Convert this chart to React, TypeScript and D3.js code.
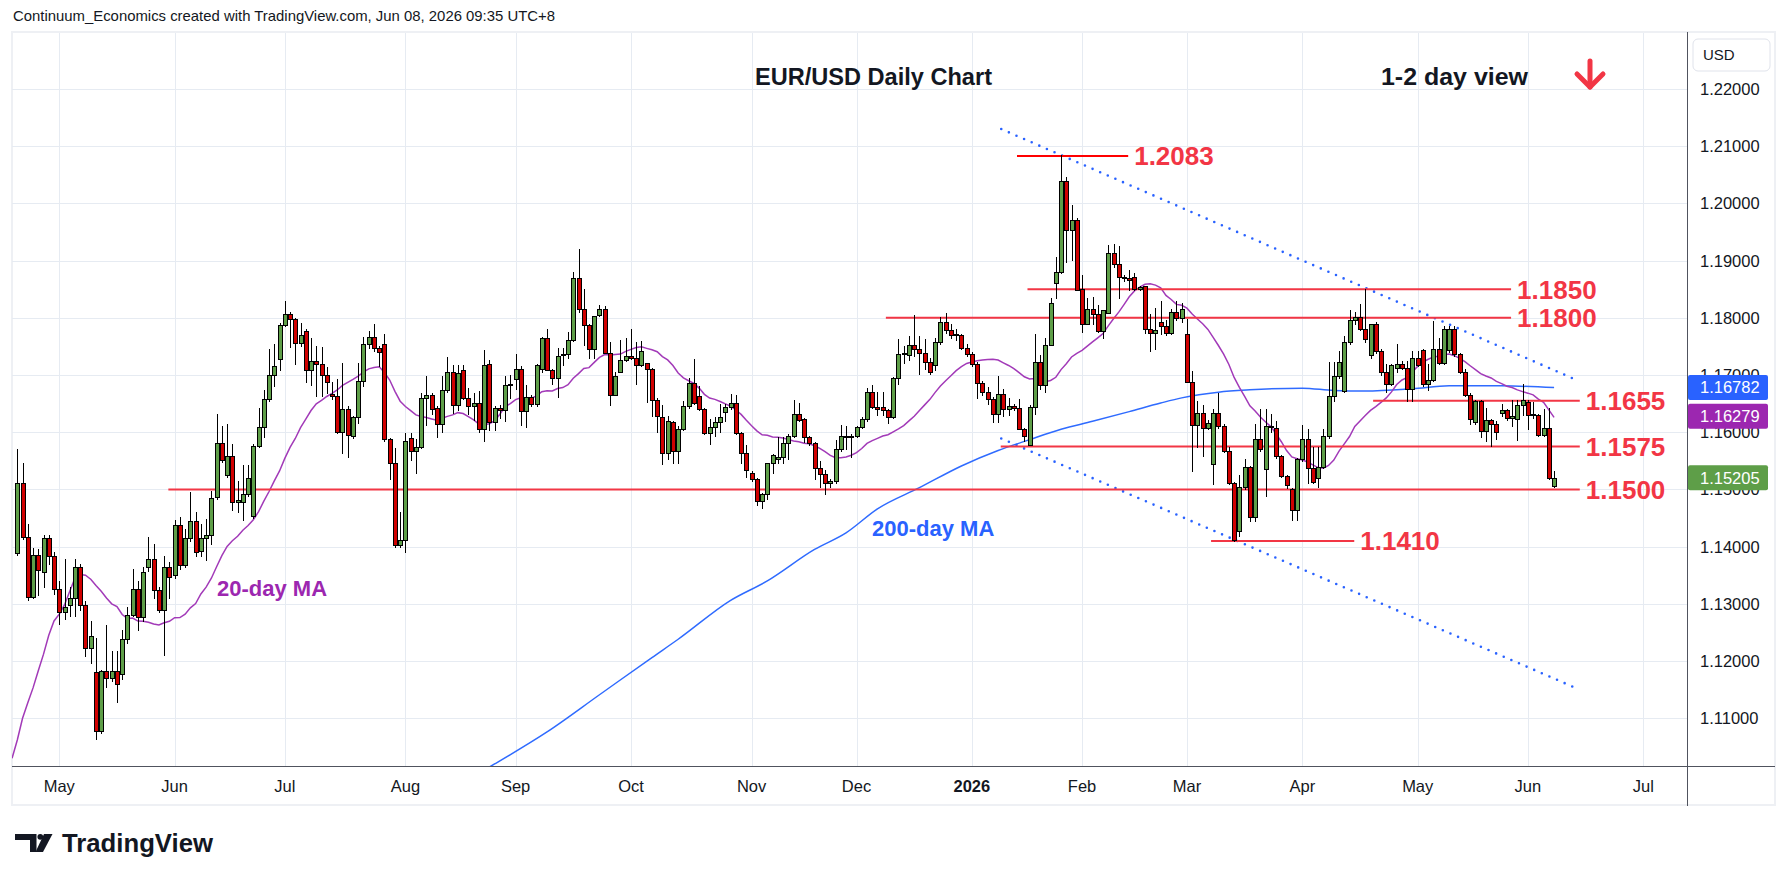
import React, { useEffect } from "react";
import * as d3 from "d3";

// ---------- data ----------
const START_DATE = "2025-04-21";
const END_AXIS_DATE = "2026-07-31";
const HOLIDAYS = ["2025-12-25", "2026-01-01"];

const opens = [
  1.1389,1.1512,1.1416,1.1312,1.1385,1.1356,1.1415,1.1384,1.1326,1.1285,
  1.1298,1.1311,1.1364,1.1298,1.1222,1.1181,1.1078,1.1182,1.1171,1.1182,
  1.1177,1.1238,1.1281,1.1326,1.1277,1.1364,1.1378,1.1324,1.1289,1.1364,
  1.1350,1.1438,1.1368,1.1415,1.1444,1.1393,1.1415,1.1420,1.1486,1.1581,
  1.1525,1.1558,1.1478,1.1478,1.1492,1.1454,1.1576,1.1609,1.1658,1.1700,
  1.1728,1.1788,1.1807,1.1798,1.1756,1.1777,1.1709,1.1725,1.1720,1.1700,
  1.1666,1.1664,1.1600,1.1641,1.1594,1.1626,1.1690,1.1755,1.1767,1.1747,
  1.1755,1.1588,1.1546,1.1402,1.1411,1.1590,1.1568,1.1574,1.1660,1.1665,
  1.1642,1.1614,1.1674,1.1705,1.1648,1.1709,1.1660,1.1645,1.1651,1.1606,
  1.1720,1.1618,1.1642,1.1638,1.1685,1.1693,1.1711,1.1637,1.1662,1.1650,
  1.1710,1.1764,1.1708,1.1695,1.1735,1.1736,1.1762,1.1869,1.1815,1.1787,
  1.1745,1.1805,1.1816,1.1739,1.1665,1.1706,1.1727,1.1733,1.1730,1.1717,
  1.1721,1.1710,1.1657,1.1627,1.1563,1.1618,1.1568,1.1605,1.1645,1.1686,
  1.1663,1.1640,1.1598,1.1609,1.1618,1.1635,1.1644,1.1651,1.1599,1.1563,
  1.1528,1.1518,1.1480,1.1492,1.1546,1.1553,1.1556,1.1581,1.1594,1.1632,
  1.1623,1.1591,1.1581,1.1537,1.1527,1.1511,1.1514,1.1570,1.1593,1.1594,
  1.1593,1.1609,1.1623,1.1670,1.1644,1.1644,1.1638,1.1626,1.1695,1.1737,
  1.1735,1.1752,1.1745,1.1739,1.1722,1.1717,1.1758,1.1793,1.1778,1.1771,
  1.1770,1.1747,1.1737,1.1719,1.1686,1.1670,1.1658,1.1632,1.1666,1.1641,
  1.1645,1.1642,1.1606,1.1578,1.1644,1.1723,1.1682,1.1753,1.1860,1.1880,
  1.2039,1.1953,1.1971,1.1850,1.1790,1.1816,1.1806,1.1777,1.1809,1.1913,
  1.1894,1.1871,1.1869,1.1872,1.1850,1.1856,1.1781,1.1773,1.1793,1.1786,
  1.1773,1.1811,1.1799,1.1771,1.1688,1.1612,1.1634,1.1608,1.1544,1.1634,
  1.1611,1.1568,1.1511,1.1427,1.1504,1.1539,1.1451,1.1588,1.1536,1.1609,
  1.1608,1.1558,1.1524,1.1501,1.1464,1.1553,1.1588,1.1537,1.1520,1.1540,
  1.1593,1.1664,1.1699,1.1672,1.1758,1.1796,1.1801,1.1781,1.1735,1.1789,
  1.1742,1.1705,1.1684,1.1713,1.1720,1.1713,1.1675,1.1729,1.1743,1.1684,
  1.1691,1.1745,1.1721,1.1743,1.1781,1.1736,1.1706,1.1665,1.1617,1.1655,
  1.1602,1.1621,1.1614,1.1634,1.1638,1.1624,1.1623,1.1648,1.1652,1.1631,
  1.1630,1.1595,1.1608,1.1506,
];

const highs = [
  1.1571,1.1546,1.1439,1.1397,1.1395,1.1421,1.1421,1.1390,1.1340,1.1378,
  1.1330,1.1378,1.1370,1.1305,1.1270,1.1241,1.1185,1.1263,1.1218,1.1218,
  1.1255,1.1294,1.1361,1.1340,1.1365,1.1416,1.1405,1.1330,1.1384,1.1373,
  1.1447,1.1452,1.1431,1.1495,1.1460,1.1440,1.1449,1.1498,1.1632,1.1610,
  1.1614,1.1579,1.1515,1.1542,1.1542,1.1580,1.1642,1.1674,1.1746,1.1755,
  1.1791,1.1830,1.1811,1.1800,1.1791,1.1781,1.1765,1.1750,1.1749,1.1714,
  1.1687,1.1693,1.1721,1.1645,1.1628,1.1721,1.1767,1.1777,1.1790,1.1750,
  1.1771,1.1590,1.1573,1.1461,1.1599,1.1599,1.1588,1.1669,1.1699,1.1668,
  1.1645,1.1698,1.1731,1.1717,1.1717,1.1717,1.1678,1.1669,1.1672,1.1743,
  1.1727,1.1645,1.1648,1.1698,1.1700,1.1737,1.1715,1.1683,1.1665,1.1720,
  1.1766,1.1781,1.1710,1.1748,1.1748,1.1775,1.1880,1.1920,1.1850,1.1790,
  1.1803,1.1822,1.1821,1.1757,1.1706,1.1762,1.1764,1.1780,1.1757,1.1760,
  1.1721,1.1712,1.1660,1.1648,1.1629,1.1620,1.1610,1.1654,1.1695,1.1728,
  1.1680,1.1642,1.1623,1.1627,1.1650,1.1650,1.1667,1.1665,1.1601,1.1578,
  1.1532,1.1520,1.1493,1.1547,1.1562,1.1592,1.1592,1.1596,1.1657,1.1651,
  1.1625,1.1593,1.1583,1.1550,1.1534,1.1519,1.1587,1.1613,1.1611,1.1596,
  1.1610,1.1627,1.1678,1.1683,1.1671,1.1671,1.1640,1.1697,1.1763,1.1750,
  1.1768,1.1805,1.1768,1.1763,1.1729,1.1764,1.1802,1.1808,1.1789,1.1780,
  1.1771,1.1755,1.1740,1.1722,1.1690,1.1679,1.1662,1.1698,1.1676,1.1660,
  1.1650,1.1658,1.1608,1.1647,1.1771,1.1735,1.1764,1.1834,1.1906,1.2084,
  1.2046,1.1998,1.1974,1.1874,1.1834,1.1837,1.1822,1.1813,1.1928,1.1929,
  1.1925,1.1875,1.1884,1.1878,1.1856,1.1856,1.1806,1.1818,1.1830,1.1797,
  1.1815,1.1830,1.1826,1.1798,1.1707,1.1654,1.1647,1.1622,1.1640,1.1668,
  1.1614,1.1575,1.1513,1.1526,1.1553,1.1541,1.1615,1.1640,1.1640,1.1632,
  1.1620,1.1560,1.1526,1.1503,1.1555,1.1612,1.1606,1.1575,1.1575,1.1606,
  1.1722,1.1722,1.1742,1.1768,1.1813,1.1810,1.1824,1.1851,1.1789,1.1792,
  1.1745,1.1719,1.1719,1.1754,1.1724,1.1724,1.1742,1.1742,1.1745,1.1720,
  1.1794,1.1765,1.1785,1.1785,1.1785,1.1739,1.1710,1.1668,1.1656,1.1657,
  1.1643,1.1623,1.1620,1.1650,1.1640,1.1657,1.1657,1.1685,1.1657,1.1652,
  1.1632,1.1640,1.1643,1.1532,
];

const lows = [
  1.1385,1.1414,1.1306,1.1310,1.1315,1.1330,1.1370,1.1317,1.1264,1.1273,
  1.1279,1.1279,1.1290,1.1209,1.1197,1.1064,1.1075,1.1154,1.1165,1.1129,
  1.1168,1.1232,1.1279,1.1254,1.1270,1.1358,1.1311,1.1286,1.1210,1.1311,
  1.1345,1.1361,1.1365,1.1410,1.1384,1.1384,1.1376,1.1404,1.1484,1.1548,
  1.1522,1.1464,1.1461,1.1447,1.1489,1.1450,1.1574,1.1592,1.1655,1.1681,
  1.1708,1.1785,1.1749,1.1720,1.1750,1.1687,1.1683,1.1663,1.1663,1.1668,
  1.1658,1.1598,1.1563,1.1557,1.1590,1.1616,1.1680,1.1747,1.1742,1.1715,
  1.1585,1.1519,1.1400,1.1400,1.1391,1.1552,1.1528,1.1572,1.1613,1.1631,
  1.1592,1.1600,1.1670,1.1633,1.1638,1.1658,1.1631,1.1622,1.1601,1.1584,
  1.1603,1.1603,1.1624,1.1619,1.1660,1.1675,1.1613,1.1609,1.1645,1.1645,
  1.1705,1.1708,1.1685,1.1662,1.1717,1.1730,1.1760,1.1810,1.1752,1.1729,
  1.1729,1.1803,1.1739,1.1648,1.1665,1.1705,1.1725,1.1728,1.1685,1.1716,
  1.1652,1.1629,1.1601,1.1544,1.1554,1.1546,1.1546,1.1603,1.1642,1.1650,
  1.1638,1.1596,1.1580,1.1594,1.1601,1.1620,1.1641,1.1597,1.1547,1.1522,
  1.1515,1.1473,1.1468,1.1484,1.1529,1.1547,1.1547,1.1554,1.1592,1.1620,
  1.1582,1.1578,1.1519,1.1505,1.1492,1.1505,1.1511,1.1568,1.1570,1.1557,
  1.1591,1.1607,1.1620,1.1642,1.1630,1.1630,1.1616,1.1624,1.1685,1.1721,
  1.1726,1.1734,1.1702,1.1711,1.1702,1.1708,1.1755,1.1774,1.1764,1.1762,
  1.1746,1.1734,1.1716,1.1660,1.1665,1.1650,1.1618,1.1618,1.1629,1.1630,
  1.1638,1.1606,1.1585,1.1577,1.1632,1.1676,1.1670,1.1752,1.1835,1.1878,
  1.1897,1.1901,1.1848,1.1775,1.1790,1.1790,1.1775,1.1765,1.1809,1.1888,
  1.1834,1.1865,1.1849,1.1849,1.1848,1.1773,1.1742,1.1746,1.1771,1.1770,
  1.1771,1.1797,1.1792,1.1688,1.1532,1.1575,1.1559,1.1605,1.1509,1.1608,
  1.1565,1.1509,1.1410,1.1419,1.1500,1.1444,1.1444,1.1568,1.1488,1.1600,
  1.1555,1.1522,1.1502,1.1446,1.1446,1.1550,1.1512,1.1512,1.1505,1.1538,
  1.1590,1.1654,1.1694,1.1670,1.1754,1.1790,1.1778,1.1758,1.1730,1.1738,
  1.1700,1.1670,1.1682,1.1705,1.1710,1.1655,1.1655,1.1715,1.1680,1.1673,
  1.1690,1.1719,1.1719,1.1740,1.1734,1.1704,1.1663,1.1615,1.1615,1.1591,
  1.1585,1.1576,1.1588,1.1628,1.1622,1.1610,1.1586,1.1630,1.1605,1.1625,
  1.1594,1.1594,1.1518,1.1505,
];

const closes = [
  1.1512,1.1416,1.1312,1.1385,1.1359,1.1415,1.1384,1.1326,1.1285,1.1295,
  1.1311,1.1364,1.1298,1.1222,1.1243,1.1078,1.1182,1.1171,1.1182,1.1159,
  1.1238,1.1281,1.1326,1.1277,1.1356,1.1378,1.1324,1.1289,1.1364,1.1346,
  1.1438,1.1368,1.1415,1.1444,1.1390,1.1415,1.1420,1.1485,1.1581,1.1551,
  1.1558,1.1478,1.1482,1.1492,1.1520,1.1576,1.1609,1.1658,1.1700,1.1716,
  1.1788,1.1807,1.1798,1.1756,1.1770,1.1709,1.1725,1.1720,1.1700,1.1687,
  1.1664,1.1600,1.1641,1.1595,1.1626,1.1690,1.1755,1.1767,1.1747,1.1740,
  1.1588,1.1546,1.1402,1.1411,1.1585,1.1568,1.1574,1.1660,1.1665,1.1641,
  1.1614,1.1674,1.1705,1.1648,1.1704,1.1660,1.1645,1.1651,1.1606,1.1718,
  1.1618,1.1642,1.1638,1.1683,1.1684,1.1711,1.1637,1.1662,1.1650,1.1718,
  1.1764,1.1708,1.1695,1.1733,1.1736,1.1762,1.1869,1.1815,1.1787,1.1745,
  1.1803,1.1816,1.1739,1.1665,1.1699,1.1727,1.1734,1.1730,1.1717,1.1742,
  1.1710,1.1656,1.1629,1.1563,1.1620,1.1568,1.1605,1.1645,1.1686,1.1651,
  1.1640,1.1598,1.1609,1.1618,1.1626,1.1644,1.1651,1.1599,1.1563,1.1534,
  1.1518,1.1480,1.1492,1.1546,1.1561,1.1556,1.1581,1.1594,1.1632,1.1622,
  1.1591,1.1581,1.1537,1.1527,1.1511,1.1514,1.1570,1.1594,1.1594,1.1594,
  1.1609,1.1623,1.1670,1.1644,1.1640,1.1638,1.1626,1.1695,1.1737,1.1738,
  1.1752,1.1745,1.1739,1.1722,1.1705,1.1758,1.1793,1.1778,1.1770,1.1770,
  1.1747,1.1737,1.1719,1.1686,1.1670,1.1658,1.1632,1.1666,1.1641,1.1645,
  1.1642,1.1606,1.1594,1.1644,1.1723,1.1682,1.1753,1.1825,1.1880,1.2039,
  1.1953,1.1971,1.1848,1.1790,1.1816,1.1806,1.1777,1.1813,1.1913,1.1894,
  1.1871,1.1870,1.1866,1.1850,1.1854,1.1781,1.1773,1.1778,1.1786,1.1773,
  1.1811,1.1799,1.1816,1.1688,1.1612,1.1634,1.1608,1.1616,1.1634,1.1611,
  1.1568,1.1511,1.1412,1.1504,1.1539,1.1451,1.1588,1.1571,1.1611,1.1611,
  1.1558,1.1524,1.1507,1.1464,1.1553,1.1588,1.1537,1.1513,1.1540,1.1593,
  1.1664,1.1699,1.1723,1.1758,1.1796,1.1801,1.1781,1.1763,1.1789,1.1742,
  1.1705,1.1684,1.1717,1.1720,1.1713,1.1675,1.1729,1.1717,1.1684,1.1691,
  1.1745,1.1721,1.1781,1.1781,1.1736,1.1706,1.1665,1.1623,1.1655,1.1602,
  1.1621,1.1614,1.1600,1.1638,1.1624,1.1628,1.1648,1.1656,1.1630,1.1630,
  1.1595,1.1608,1.1520,1.15205,
];

// 20-day MA for the first bars (bar -1 .. 18; needs history before the visible window)
const ma20Lead = [
  1.1030,
  1.1062,1.1100,1.1127,1.1153,1.1183,1.1212,1.1245,1.1270,1.1282,1.1298,
  1.1322,1.1345,1.1351,1.1350,1.1343,1.1332,1.1322,1.1310,1.1300,
];

// 200-day MA (bar index, value)
const ma200Idx = [88,91,101,111,121,126,136,143,152,158,164,172,180,187,193,199,205,212,218,222,229,235,245,251,257,266,273,283,293];
const ma200Val = [1.1004,1.1020,1.1076,1.1141,1.1206,1.1238,1.1306,1.1340,1.1395,1.1424,1.1466,1.1503,1.1541,1.1568,1.1587,1.1605,1.1619,1.1636,1.1651,1.1660,1.1670,1.1674,1.1677,1.1673,1.1672,1.1676,1.1681,1.1681,1.1678];

const priceTicks = [1.22,1.21,1.2,1.19,1.18,1.17,1.16,1.15,1.14,1.13,1.12,1.11];
const monthLabels = ["May","Jun","Jul","Aug","Sep","Oct","Nov","Dec","2026","Feb","Mar","Apr","May","Jun","Jul"];

const levelValues = [1.2083, 1.185, 1.18, 1.1655, 1.1575, 1.15, 1.141];
const levelLabels = ["1.2083","1.1850","1.1800","1.1655","1.1575","1.1500","1.1410"];
const levelFrom = [190.6, 192.6, 165.6, 258.5, 187.5, 28.8, 227.6];
const levelTo = [211.8, 284.8, 284.8, 297.9, 297.9, 297.9, 254.9];

const channelIdx = [187.6, 297.1];
const upperChannel = [1.2130, 1.1692];
const lowerChannel = [1.1589, 1.1153];

const lastPrice = 1.15205;
const ma200Last = 1.16782;
const ma20Last = 1.16279;

// ---------- layout ----------
const W = 1787, H = 881;
const PANE = { left: 12, top: 33, right: 1687, bottom: 766 };
const FONT = "'Liberation Sans', Arial, sans-serif";
const GREEN = "#5e9e48";
const RED = "#d00000";
const LEVEL = "#f23645";
const GRID = "#e6ebf2";
const TEXT = "#131722";
const BLUE = "#2962ff";
const PURPLE = "#9c27b0";

function tradingDays(start: string, end: string) {
  const out: Date[] = [];
  const d = new Date(start + "T00:00:00Z");
  const e = new Date(end + "T00:00:00Z");
  while (d <= e) {
    const wd = d.getUTCDay();
    const iso = d.toISOString().slice(0, 10);
    if (wd !== 0 && wd !== 6 && !HOLIDAYS.includes(iso)) out.push(new Date(d));
    d.setUTCDate(d.getUTCDate() + 1);
  }
  return out;
}

export default function App() {
  useEffect(() => {
    document.body.style.margin = "0";
  }, []);

  const n = closes.length;
  const dates = tradingDays(START_DATE, END_AXIS_DATE);
  const x = d3.scaleLinear().domain([0, n - 1]).range([17.3, 17.3 + (n - 1) * 5.245]);
  const y = d3.scaleLinear().domain([1.11, 1.22]).range([718.2, 89]);

  const monthTicks: number[] = [];
  for (let i = 1; i < dates.length; i++) {
    if (dates[i].getUTCMonth() !== dates[i - 1].getUTCMonth()) monthTicks.push(i);
  }

  // 20-day simple moving average of closes, with read-off lead values before enough history
  const ma20Pts: [number, number][] = [[-1, ma20Lead[0]]];
  closes.forEach((_, i) => {
    const v = i < 19 ? ma20Lead[i + 1] : (d3.mean(closes.slice(i - 19, i + 1)) as number);
    ma20Pts.push([i, v]);
  });
  const lineGen = d3
    .line<[number, number]>()
    .x((d) => x(d[0]))
    .y((d) => y(d[1]));
  const ma20Path = lineGen(ma20Pts) || "";
  const ma200Path =
    d3
      .line<[number, number]>()
      .x((d) => x(d[0]))
      .y((d) => y(d[1]))
      .curve(d3.curveMonotoneX)(ma200Idx.map((v, k) => [v, ma200Val[k]] as [number, number])) || "";
  const upperPath = lineGen([[channelIdx[0], upperChannel[0]], [channelIdx[1], upperChannel[1]]]) || "";
  const lowerPath = lineGen([[channelIdx[0], lowerChannel[0]], [channelIdx[1], lowerChannel[1]]]) || "";

  const candles = closes.map((c, i) => {
    const o = opens[i];
    const px = Math.round(x(i));
    const up = c >= o;
    const top = Math.round(y(Math.max(o, c)));
    const bot = Math.round(y(Math.min(o, c)));
    const hi = Math.round(y(highs[i]));
    const lo = Math.round(y(lows[i]));
    return (
      <g key={i}>
        <line x1={px + 0.5} x2={px + 0.5} y1={hi} y2={lo + 1} stroke="#000" strokeWidth={1} />
        <rect
          x={px - 1.5}
          y={top + 0.5}
          width={4}
          height={Math.max(bot - top, 1)}
          fill={up ? GREEN : RED}
          stroke="#000"
          strokeWidth={1}
        />
      </g>
    );
  });

  const axisBox = (v: number, color: string, key: string) => (
    <g key={key}>
      <rect x={1688} y={y(v) - 12.5} width={80} height={25} rx={2} fill={color} />
      <text x={1700} y={y(v) + 6} fontSize={16.5} fill="#fff" fontFamily={FONT}>
        {v.toFixed(5)}
      </text>
    </g>
  );

  return (
    <svg width={W} height={H} style={{ display: "block", background: "#fff" }} fontFamily={FONT}>
      <defs>
        <clipPath id="pane">
          <rect x={PANE.left} y={PANE.top} width={PANE.right - PANE.left} height={PANE.bottom - PANE.top} />
        </clipPath>
      </defs>

      {/* header */}
      <text x={13} y={21} fontSize={15} fill={TEXT} textLength={542} lengthAdjust="spacingAndGlyphs">
        Continuum_Economics created with TradingView.com, Jun 08, 2026 09:35 UTC+8
      </text>

      {/* frame */}
      <rect x={PANE.left} y={PANE.top - 1} width={1775 - PANE.left} height={806 - PANE.top} fill="#fff" stroke="#eef0f4" strokeWidth={2} />

      {/* grid */}
      <g stroke={GRID} strokeWidth={1}>
        {priceTicks.map((p) => (
          <line key={"h" + p} x1={PANE.left} x2={PANE.right} y1={Math.round(y(p)) + 0.5} y2={Math.round(y(p)) + 0.5} />
        ))}
        {monthTicks.map((i) => (
          <line key={"v" + i} x1={Math.round(x(i)) + 0.5} x2={Math.round(x(i)) + 0.5} y1={PANE.top} y2={PANE.bottom} />
        ))}
      </g>

      <g clipPath="url(#pane)">
        {/* moving averages */}
        <path d={ma200Path} fill="none" stroke="#2f6bff" strokeWidth={1.5} />
        <path d={ma20Path} fill="none" stroke="#a23ab8" strokeWidth={1.5} />

        {/* channel */}
        <path d={upperPath} fill="none" stroke={BLUE} strokeWidth={2.6} strokeDasharray="0 8.3" strokeLinecap="round" />
        <path d={lowerPath} fill="none" stroke={BLUE} strokeWidth={2.6} strokeDasharray="0 8.3" strokeLinecap="round" />

        {/* level lines */}
        {levelValues.map((v, k) => (
          <line
            key={"lv" + k}
            x1={x(levelFrom[k])}
            x2={x(levelTo[k])}
            y1={y(v)}
            y2={y(v)}
            stroke={k === 0 ? "#ff0000" : LEVEL}
            strokeWidth={2}
          />
        ))}

        {candles}

        {/* level labels */}
        {levelValues.map((v, k) => (
          <text key={"ll" + k} x={x(levelTo[k]) + 6} y={y(v) + 9.3} fontSize={26} fontWeight="bold" fill={LEVEL}>
            {levelLabels[k]}
          </text>
        ))}

        <text x={872} y={536} fontSize={22} fontWeight="bold" fill={BLUE}>200-day MA</text>
        <text x={217} y={596} fontSize={22} fontWeight="bold" fill={PURPLE}>20-day MA</text>

        {/* titles */}
        <text x={755} y={85} fontSize={24} fontWeight="bold" fill={TEXT} textLength={237} lengthAdjust="spacingAndGlyphs">
          EUR/USD Daily Chart
        </text>
        <text x={1381} y={85} fontSize={24} fontWeight="bold" fill={TEXT} textLength={147} lengthAdjust="spacingAndGlyphs">
          1-2 day view
        </text>
        <g stroke={LEVEL} strokeWidth={5} strokeLinecap="round" strokeLinejoin="round" fill="none">
          <line x1={1590} x2={1590} y1={61} y2={87} />
          <polyline points="1577,74 1590,87 1603,74" />
        </g>
      </g>

      {/* axes */}
      <line x1={PANE.left} x2={1775} y1={PANE.bottom + 0.5} y2={PANE.bottom + 0.5} stroke="#50535e" strokeWidth={1} />
      <line x1={PANE.right + 0.5} x2={PANE.right + 0.5} y1={PANE.top - 1} y2={806} stroke="#50535e" strokeWidth={1} />

      {priceTicks.map((p) => (
        <text key={"pt" + p} x={1700} y={y(p) + 6} fontSize={16.5} fill={TEXT}>
          {p.toFixed(5)}
        </text>
      ))}
      {monthTicks.map((i, k) => (
        <text
          key={"mt" + i}
          x={x(i)}
          y={792}
          fontSize={16.5}
          textAnchor="middle"
          fill={TEXT}
          fontWeight={monthLabels[k] === "2026" ? "bold" : "normal"}
        >
          {monthLabels[k]}
        </text>
      ))}

      {axisBox(ma200Last, BLUE, "b200")}
      {axisBox(ma20Last, PURPLE, "b20")}
      {axisBox(lastPrice, GREEN, "blast")}

      {/* currency box */}
      <rect x={1693} y={39} width={77} height={32} rx={5} fill="#fff" stroke="#e0e3eb" />
      <text x={1703} y={60} fontSize={15} fill={TEXT}>USD</text>

      {/* TradingView logo */}
      <g fill={TEXT}>
        <path d="M15,834 H36.5 V852 H30 V840 H15 Z" />
        <circle cx={40.3} cy={836.8} r={2.9} />
        <path d="M44,834 H52.5 L43,852 H35.5 Z" />
        <text x={62} y={852} fontSize={25} fontWeight="bold" textLength={151} lengthAdjust="spacingAndGlyphs">
          TradingView
        </text>
      </g>
    </svg>
  );
}
